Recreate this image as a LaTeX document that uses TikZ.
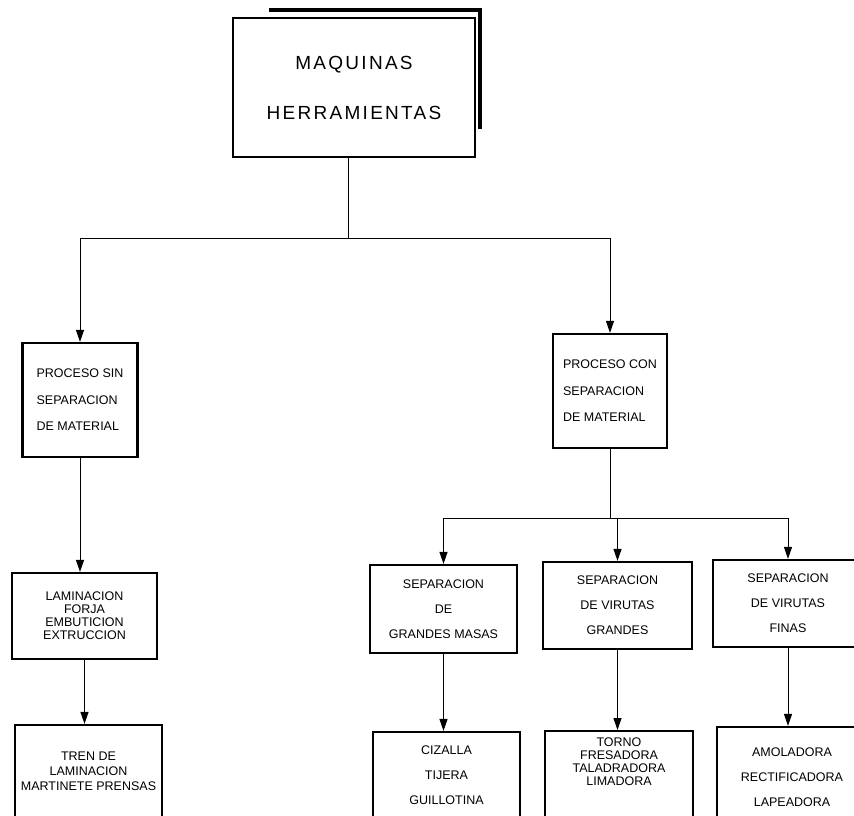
\documentclass[tikz,border=0pt]{standalone}
\usepackage{fontspec}
\setmainfont{Liberation Sans}
\usetikzlibrary{arrows.meta,positioning}

\begin{document}
\begin{tikzpicture}[x=1pt,y=-1pt,
    box/.style={draw,line width=2.2pt,align=center,inner sep=0pt,font=\fontsize{12.5}{25}\selectfont},
    tight/.style={align=center,font=\fontsize{12.5}{13}\selectfont},
    link/.style={line width=1pt},
    arr/.style={link,-{Triangle[length=12pt,width=8pt]}}]
  \useasboundingbox (0,0) rectangle (854,815);
  \clip (0,0) rectangle (854,815);
  % titulo
  \node[box,minimum width=242pt,minimum height=139pt,font=\fontsize{19}{50}\selectfont\addfontfeature{LetterSpace=12}] (maq) at (354,87.5) {MAQUINAS\\HERRAMIENTAS};
  \draw[line width=3.5pt] ([xshift=37pt,yshift=7pt]maq.north west) -| ([xshift=4pt,yshift=29pt]maq.south east);
  % procesos
  \node[box,align=left,minimum width=115pt,minimum height=114pt,font=\fontsize{12.5}{26.5}\selectfont] (psin) at (80,400) {PROCESO SIN\\SEPARACION\\DE MATERIAL};
  \node[box,align=left,minimum width=114pt,minimum height=114pt,font=\fontsize{12.5}{26.5}\selectfont] (pcon) at (610,391) {PROCESO CON\\SEPARACION\\DE MATERIAL};
  % sin separacion
  \node[box,tight,minimum width=145pt,minimum height=86pt] (lam) at (84.5,616) {LAMINACION\\FORJA\\EMBUTICION\\EXTRUCCION};
  \node[box,minimum width=147pt,minimum height=92pt,font=\fontsize{12.5}{15}\selectfont] (tren) at (88.5,771) {TREN DE\\LAMINACION\\MARTINETE PRENSAS};
  % con separacion
  \node[box,minimum width=147pt,minimum height=88pt] (gm) at (443.5,609) {SEPARACION\\DE\\GRANDES MASAS};
  \node[box,minimum width=149pt,minimum height=87pt] (vg) at (617.5,605.5) {SEPARACION\\DE VIRUTAS\\GRANDES};
  \node[box,minimum width=150pt,minimum height=87pt] (vf) at (788,603.5) {SEPARACION\\DE VIRUTAS\\FINAS};
  \node[box,minimum width=147pt,minimum height=86pt] (ciz) at (446.5,775) {CIZALLA\\TIJERA\\GUILLOTINA};
  \node[box,minimum width=148pt,minimum height=100pt,anchor=north] (torno) at (619,730) {};
  \node[tight,below=4pt of torno.north] (tornolist) {TORNO\\FRESADORA\\TALADRADORA\\LIMADORA};
  \node[box,minimum width=150pt,minimum height=100pt] (amol) at (792,777) {AMOLADORA\\RECTIFICADORA\\LAPEADORA};
  % conexiones
  \coordinate (j1) at (348,238);
  \coordinate (j2) at (610,518);
  \draw[link] (maq.south -| j1) -- (j1);
  \draw[arr] (j1) -| (psin.north);
  \draw[arr] (j1) -| (pcon.north);
  \draw[arr] (psin.south) -- (psin.south |- lam.north);
  \draw[arr] (lam.south) -- (lam.south |- tren.north);
  \draw[link] (pcon.south) -- (j2);
  \draw[arr] (j2) -| (gm.north);
  \draw[arr] (j2) -| (vg.north);
  \draw[arr] (j2) -| (vf.north);
  \draw[arr] (gm.south) -- (gm.south |- ciz.north);
  \draw[arr] (vg.south) -- (vg.south |- torno.north);
  \draw[arr] (vf.south) -- (vf.south |- amol.north);
\end{tikzpicture}
\end{document}
